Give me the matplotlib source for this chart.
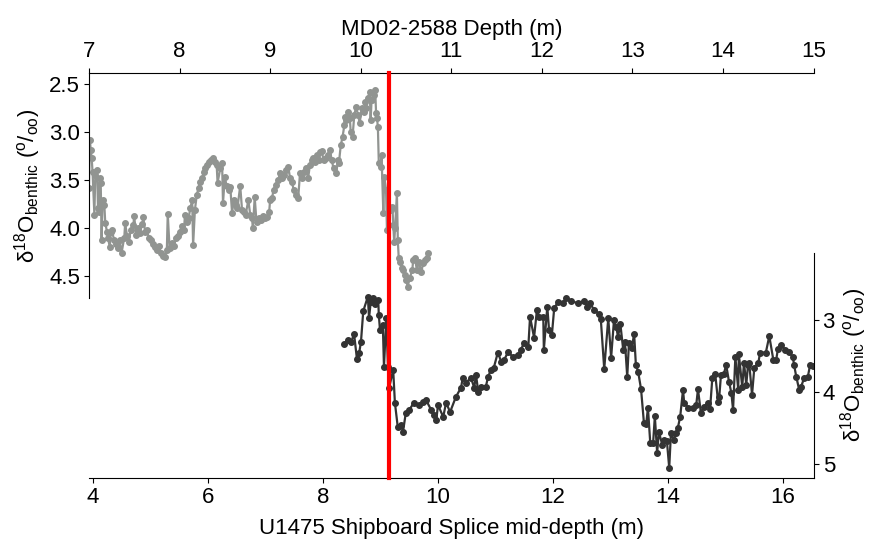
import matplotlib
matplotlib.use("Agg")
import matplotlib.pyplot as plt

plt.rcParams["font.family"] = ["Liberation Sans", "DejaVu Sans"]
plt.rcParams["mathtext.default"] = "regular"

# MD02-2588 (top axis, depth in m) benthic d18O
md_depth = [7.00, 7.01, 7.02, 7.03, 7.04, 7.06, 7.07, 7.09, 7.10, 7.11, 7.12, 7.13, 7.14, 7.15,
            7.17, 7.18, 7.20, 7.21, 7.23, 7.24, 7.25, 7.28, 7.30, 7.32, 7.34, 7.36, 7.39, 7.40,
            7.42, 7.44, 7.46, 7.49, 7.50, 7.52, 7.54, 7.56, 7.59, 7.60, 7.62, 7.64, 7.66, 7.68,
            7.71, 7.73, 7.75, 7.77, 7.79, 7.82, 7.84, 7.86, 7.87, 7.89, 7.92, 7.94, 7.96, 7.98,
            8.00, 8.03, 8.05, 8.06, 8.08, 8.10, 8.12, 8.14, 8.15, 8.17, 8.19, 8.21, 8.23, 8.25,
            8.27, 8.28, 8.30, 8.32, 8.35, 8.37, 8.39, 8.41, 8.42, 8.45, 8.47, 8.48, 8.50, 8.52,
            8.55, 8.56, 8.58, 8.60, 8.62, 8.64, 8.67, 8.69, 8.71, 8.73, 8.76, 8.78, 8.80, 8.81,
            8.83, 8.85, 8.88, 8.90, 8.92, 8.94, 8.97, 8.99, 9.00, 9.02, 9.04, 9.06, 9.09, 9.11,
            9.13, 9.15, 9.17, 9.20, 9.22, 9.24, 9.26, 9.29, 9.31, 9.33, 9.35, 9.37, 9.40, 9.42,
            9.44, 9.46, 9.47, 9.50, 9.52, 9.54, 9.55, 9.57, 9.59, 9.62, 9.64, 9.66, 9.68, 9.70,
            9.73, 9.75, 9.76, 9.78, 9.80, 9.82, 9.83, 9.84, 9.86, 9.88, 9.89, 9.91, 9.93, 9.95,
            9.97, 9.99, 10.01, 10.04, 10.05, 10.06, 10.08, 10.10, 10.11, 10.12, 10.15, 10.16,
            10.17, 10.18, 10.19, 10.20, 10.22, 10.23, 10.25, 10.26, 10.28, 10.29, 10.31, 10.33,
            10.35, 10.36, 10.37, 10.38, 10.40, 10.41, 10.42, 10.43, 10.46, 10.47, 10.49, 10.50,
            10.52, 10.54, 10.57, 10.58, 10.60, 10.62, 10.64, 10.67, 10.69, 10.71, 10.73, 10.74]
md_d18o = [3.58, 3.08, 3.19, 3.27, 3.42, 3.86, 3.45, 3.40, 3.79, 3.83, 3.48, 3.53, 4.13, 3.71,
           3.76, 3.95, 4.04, 4.10, 4.20, 4.04, 4.02, 4.13, 4.17, 4.21, 4.13, 4.26, 4.10, 3.95,
           4.08, 4.15, 4.02, 3.97, 3.88, 4.07, 4.00, 4.05, 3.96, 3.89, 4.04, 4.02, 4.10, 4.13,
           4.17, 4.20, 4.23, 4.19, 4.26, 4.29, 4.30, 4.23, 3.85, 4.21, 4.16, 4.19, 4.10, 4.08,
           4.04, 3.98, 4.02, 3.86, 3.94, 3.90, 3.79, 3.71, 4.18, 3.81, 3.66, 3.58, 3.52, 3.48,
           3.42, 3.38, 3.34, 3.31, 3.29, 3.27, 3.31, 3.34, 3.53, 3.38, 3.32, 3.74, 3.47, 3.56,
           3.60, 3.57, 3.84, 3.71, 3.76, 3.79, 3.56, 3.81, 3.83, 3.86, 3.71, 3.86, 3.90, 4.00,
           3.68, 3.94, 3.90, 3.92, 3.88, 3.90, 3.89, 3.83, 3.71, 3.69, 3.60, 3.55, 3.50, 3.43,
           3.48, 3.45, 3.40, 3.36, 3.48, 3.52, 3.60, 3.66, 3.69, 3.43, 3.48, 3.42, 3.38, 3.48,
           3.34, 3.29, 3.27, 3.31, 3.24, 3.29, 3.21, 3.20, 3.29, 3.27, 3.24, 3.19, 3.29, 3.38,
           3.43, 3.29, 3.32, 3.14, 3.05, 2.93, 2.84, 2.88, 2.79, 2.85, 3.00, 3.05, 2.82, 2.74,
           2.82, 2.91, 2.75, 2.79, 2.69, 2.75, 2.65, 2.58, 2.88, 2.67, 2.61, 2.56,
           2.80, 2.85, 2.95, 3.32, 3.36, 3.24, 3.84, 3.47, 3.60, 4.02, 3.79, 3.81,
           3.78, 3.97, 4.15, 4.00, 3.64, 4.13, 4.31, 4.35, 4.42, 4.44, 4.49, 4.54,
           4.61, 4.52, 4.44, 4.33, 4.31, 4.44, 4.35, 4.46, 4.36, 4.33, 4.31, 4.26]

# U1475 shipboard splice (bottom axis) benthic d18O
u_depth = [8.37, 8.43, 8.49, 8.54, 8.59, 8.63, 8.66, 8.70, 8.78, 8.80, 8.83, 8.87, 8.90, 8.96,
           8.97, 8.99, 9.04, 9.06, 9.10, 9.13, 9.15, 9.22, 9.25, 9.30, 9.36, 9.39, 9.44, 9.50,
           9.58, 9.67, 9.74, 9.79, 9.88, 9.93, 9.97, 10.00, 10.09, 10.14, 10.21, 10.31, 10.40,
           10.43, 10.49, 10.57, 10.63, 10.66, 10.70, 10.75, 10.83, 10.87, 10.92, 10.97, 11.04,
           11.10, 11.15, 11.22, 11.30, 11.39, 11.44, 11.50, 11.57, 11.60, 11.67, 11.72, 11.76,
           11.83, 11.84, 11.90, 11.93, 11.98, 12.02, 12.09, 12.17, 12.23, 12.31, 12.43, 12.54,
           12.59, 12.64, 12.71, 12.80, 12.83, 12.89, 12.96, 13.01, 13.06, 13.10, 13.13, 13.17,
           13.22, 13.25, 13.29, 13.32, 13.37, 13.41, 13.44, 13.48, 13.53, 13.58, 13.62, 13.65,
           13.69, 13.74, 13.77, 13.81, 13.84, 13.90, 13.93, 13.98, 14.02, 14.05, 14.10, 14.14,
           14.17, 14.21, 14.26, 14.28, 14.35, 14.43, 14.49, 14.52, 14.57, 14.63, 14.70, 14.73,
           14.77, 14.82, 14.87, 14.89, 14.92, 14.97, 15.01, 15.06, 15.10, 15.13, 15.17, 15.22,
           15.23, 15.29, 15.32, 15.36, 15.39, 15.41, 15.46, 15.50, 15.57, 15.60, 15.70, 15.76,
           15.83, 15.88, 15.91, 15.97, 16.03, 16.10, 16.17, 16.19, 16.23, 16.28, 16.31, 16.37,
           16.43, 16.47, 16.52]
u_d18o = [3.33, 3.27, 3.30, 3.19, 3.54, 3.45, 3.30, 2.87, 2.67, 2.97, 2.74, 2.69, 2.77, 2.71,
          2.92, 3.13, 3.06, 3.65, 2.97, 3.65, 3.94, 3.69, 4.15, 4.49, 4.46, 4.56, 4.29, 4.25,
          4.15, 4.18, 4.14, 4.11, 4.25, 4.32, 4.39, 4.18, 4.35, 4.15, 4.28, 4.07, 3.94,
          3.80, 3.87, 3.80, 3.94, 3.76, 4.00, 3.93, 3.93, 3.79, 3.69, 3.66, 3.45,
          3.58, 3.55, 3.44, 3.51, 3.48, 3.41, 3.31, 3.37, 2.95, 3.24, 2.85, 2.95,
          2.95, 3.41, 2.81, 3.13, 3.20, 2.83, 2.74, 2.76, 2.69, 2.73, 2.76, 2.73,
          2.81, 2.76, 2.85, 2.91, 2.98, 3.68, 2.97, 3.52, 2.99, 3.10, 3.23, 3.05,
          3.41, 3.30, 3.79, 3.31, 3.38, 3.19, 3.62, 3.72, 3.96, 4.43, 4.45, 4.22,
          4.71, 4.71, 4.34, 4.85, 4.56, 4.74, 4.67, 4.69, 5.06, 4.57, 4.67, 4.57,
          4.50, 4.35, 3.97, 4.15, 4.22, 4.22, 4.18, 3.96, 4.29, 4.21, 4.15, 4.24,
          3.80, 3.75, 4.14, 4.07, 3.76, 3.75, 3.62, 3.86, 4.01, 4.25, 3.51, 3.97,
          3.47, 3.93, 3.59, 3.90, 3.62, 3.59, 4.04, 3.66, 3.59, 3.45, 3.45, 3.22,
          3.55, 3.55, 3.40, 3.34, 3.41, 3.44, 3.51, 3.62, 3.79, 3.97, 3.93, 3.80,
          3.79, 3.62, 3.64]

# tie point (red line), on the U1475 depth scale
tie_u1475 = 9.15

ylab = r"$\delta^{18}$O$_{benthic}$ ($^{o}/_{oo}$)"
FS = 16

top_box = [0.102, 0.448, 0.831, 0.417]
bot_box = [0.102, 0.115, 0.831, 0.417]
fig = plt.figure(figsize=(8.72, 5.4), dpi=100)
ax1 = fig.add_axes(top_box)
ax2 = fig.add_axes(bot_box)
ax2.patch.set_visible(False)

# top: MD02-2588
ax1.plot(md_depth, md_d18o, "-o", color="#919491", ms=4, lw=1.6, zorder=2)
ax1.set_xlim(7, 15)
ax1.set_ylim(4.73, 2.385)
ax1.xaxis.tick_top()
ax1.xaxis.set_label_position("top")
ax1.set_xlabel("MD02-2588 Depth (m)", fontsize=FS, labelpad=5)
ax1.set_ylabel(ylab, fontsize=FS, labelpad=4)
ax1.spines["bottom"].set_visible(False)
ax1.spines["right"].set_visible(False)
ax1.tick_params(axis="x", labelsize=FS, pad=4)
ax1.tick_params(axis="y", labelsize=FS, pad=3)

# bottom: U1475
ax2.plot(u_depth, u_d18o, "-o", color="#333333", ms=4, lw=1.6, zorder=2)
# one red line across both panels (from bottom spine up to the top spine)
span = (top_box[1] + top_box[3] - bot_box[1]) / bot_box[3]
ax2.axvline(tie_u1475, ymin=0, ymax=span, color="red", lw=3, zorder=5, clip_on=False)
ax2.set_xlim(3.93, 16.53)
ax2.set_ylim(5.20, 2.056)
ax2.set_xticks([4, 6, 8, 10, 12, 14, 16])
ax2.set_yticks([3, 4, 5])
ax2.yaxis.tick_right()
ax2.yaxis.set_label_position("right")
ax2.set_xlabel("U1475 Shipboard Splice mid-depth (m)", fontsize=FS, labelpad=7)
ax2.set_ylabel(ylab, fontsize=FS, labelpad=2)
ax2.spines["top"].set_visible(False)
ax2.spines["left"].set_visible(False)
ax2.tick_params(axis="x", labelsize=FS, pad=3)
ax2.tick_params(axis="y", labelsize=FS, pad=3)

fig.savefig("out.png", dpi=100)
